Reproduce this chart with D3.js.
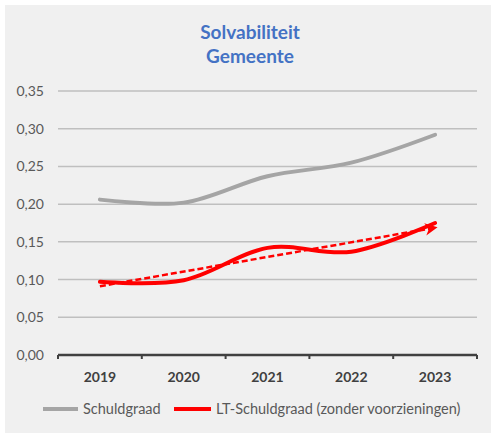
<!DOCTYPE html>
<html>
  <head>
    <meta charset="utf-8">
    <title>Solvabiliteit Gemeente</title>
    <style>
      body { margin: 0; background: #fff; }
      svg { display: block; font-family: Lato, "Open Sans", sans-serif; }
    </style>
  </head>
  <body>
    <script src="https://d3js.org/d3.v7.min.js"></script>
    <script>
    // data
    var jaren = ["2019", "2020", "2021", "2022", "2023"];
    var schuldgraad = [0.206, 0.202, 0.237, 0.255, 0.292];
    var ltSchuldgraad = [0.097, 0.099, 0.142, 0.137, 0.175];
    var yTicks = [0, 0.05, 0.10, 0.15, 0.20, 0.25, 0.30, 0.35];
    var titel = ["Solvabiliteit", "Gemeente"];
    var legendaNamen = ["Schuldgraad", "LT-Schuldgraad (zonder voorzieningen)"];

    var width = 491, height = 433;
    var svg = d3.select("body").append("svg")
      .attr("width", width)
      .attr("height", height);

    // grijze achtergrond van de grafiek
    svg.append("rect")
      .attr("x", 5).attr("y", 5)
      .attr("width", width - 5).attr("height", height - 5)
      .attr("fill", "#f0f0f0");

    // titel
    svg.append("text")
      .attr("x", 250).attr("y", 39)
      .attr("text-anchor", "middle")
      .attr("fill", "#4472c4")
      .style("font-size", "19px")
      .style("font-weight", "bold")
      .selectAll("tspan").data(titel).enter().append("tspan")
        .attr("x", 250)
        .attr("dy", function(d, i) { return i ? 24 : 0; })
        .text(function(d) { return d; });

    var x = d3.scaleBand().domain(jaren).range([58, 477]);
    var y = d3.scaleLinear().domain([0, 0.35]).range([355, 91]);
    var fmt = function(v) { return d3.format(".2f")(v).replace(".", ","); };

    // rasterlijnen
    svg.append("g").selectAll("line")
      .data(yTicks.filter(function(d) { return d > 0; }))
      .enter().append("line")
        .attr("x1", 58).attr("x2", 477)
        .attr("y1", function(d) { return y(d); })
        .attr("y2", function(d) { return y(d); })
        .attr("stroke", "#bfbfbf")
        .attr("stroke-width", 1.5);

    // y-as labels
    var yAxis = svg.append("g")
      .attr("transform", "translate(44,0)")
      .call(d3.axisLeft(y).tickValues(yTicks).tickFormat(fmt).tickSize(0));
    yAxis.select(".domain").remove();
    yAxis.selectAll("text")
      .attr("x", 0)
      .attr("fill", "#595959")
      .style("font-size", "14px")
      .style("font-family", "Lato, 'Open Sans', sans-serif");

    // x-as
    var xAxis = svg.append("g")
      .attr("transform", "translate(0," + y(0) + ")");
    xAxis.append("line")
      .attr("x1", x.range()[0]).attr("x2", x.range()[1])
      .attr("stroke", "#404040").attr("stroke-width", 2.5);
    var grenzen = jaren.map(function(d) { return x(d); }).concat([x.range()[1]]);
    xAxis.selectAll(".tick").data(grenzen).enter().append("line")
      .attr("x1", function(d) { return d; }).attr("x2", function(d) { return d; })
      .attr("y1", 0).attr("y2", 4)
      .attr("stroke", "#404040").attr("stroke-width", 2);
    xAxis.selectAll(".lbl").data(jaren).enter().append("text")
      .attr("x", function(d) { return x(d) + x.bandwidth() / 2; })
      .attr("y", 27)
      .attr("text-anchor", "middle")
      .attr("fill", "#404040")
      .style("font-size", "14px")
      .style("font-weight", "bold")
      .text(function(d) { return d; });

    var cx = function(d, i) { return x(jaren[i]) + x.bandwidth() / 2; };
    var lijn = d3.line()
      .x(cx)
      .y(function(d) { return y(d); })
      .curve(d3.curveCardinal.tension(0));

    svg.append("path")
      .datum(schuldgraad)
      .attr("d", lijn)
      .attr("fill", "none")
      .attr("stroke", "#a5a5a5")
      .attr("stroke-width", 4)
      .attr("stroke-linecap", "round");

    svg.append("path")
      .datum(ltSchuldgraad)
      .attr("d", lijn)
      .attr("fill", "none")
      .attr("stroke", "#ff0000")
      .attr("stroke-width", 4)
      .attr("stroke-linecap", "round");

    // lineaire trendlijn (kleinste kwadraten) over LT-schuldgraad
    var n = ltSchuldgraad.length;
    var mx = d3.mean(d3.range(n)), my = d3.mean(ltSchuldgraad);
    var helling = d3.sum(ltSchuldgraad, function(v, i) { return (i - mx) * (v - my); }) /
                  d3.sum(d3.range(n), function(i) { return (i - mx) * (i - mx); });
    var trend = [0, n - 1].map(function(i) { return my + helling * (i - mx); });

    svg.append("defs").append("marker")
      .attr("id", "pijl")
      .attr("viewBox", "0 0 10 10")
      .attr("refX", 8).attr("refY", 5)
      .attr("markerWidth", 5).attr("markerHeight", 5)
      .attr("orient", "auto")
      .append("path")
        .attr("d", "M0,0 L10,5 L0,10 L3,5 Z")
        .attr("fill", "#ff0000");

    svg.append("line")
      .attr("x1", cx(0, 0)).attr("y1", y(trend[0]))
      .attr("x2", cx(0, n - 1)).attr("y2", y(trend[1]))
      .attr("stroke", "#ff0000")
      .attr("stroke-width", 2.5)
      .attr("stroke-dasharray", "6,3")
      .attr("marker-end", "url(#pijl)");

    // legenda
    var legenda = [
      { naam: legendaNamen[0], kleur: "#a5a5a5", x1: 43, x2: 78 },
      { naam: legendaNamen[1], kleur: "#ff0000", x1: 174, x2: 211 }
    ];
    var lg = svg.append("g").selectAll("g").data(legenda).enter().append("g");
    lg.append("line")
      .attr("x1", function(d) { return d.x1; })
      .attr("x2", function(d) { return d.x2; })
      .attr("y1", 409).attr("y2", 409)
      .attr("stroke", function(d) { return d.kleur; })
      .attr("stroke-width", 4);
    lg.append("text")
      .attr("x", function(d) { return d.x2 + 5; })
      .attr("y", 414)
      .attr("fill", "#595959")
      .style("font-size", "14.5px")
      .text(function(d) { return d.naam; });
    </script>
  </body>
</html>
